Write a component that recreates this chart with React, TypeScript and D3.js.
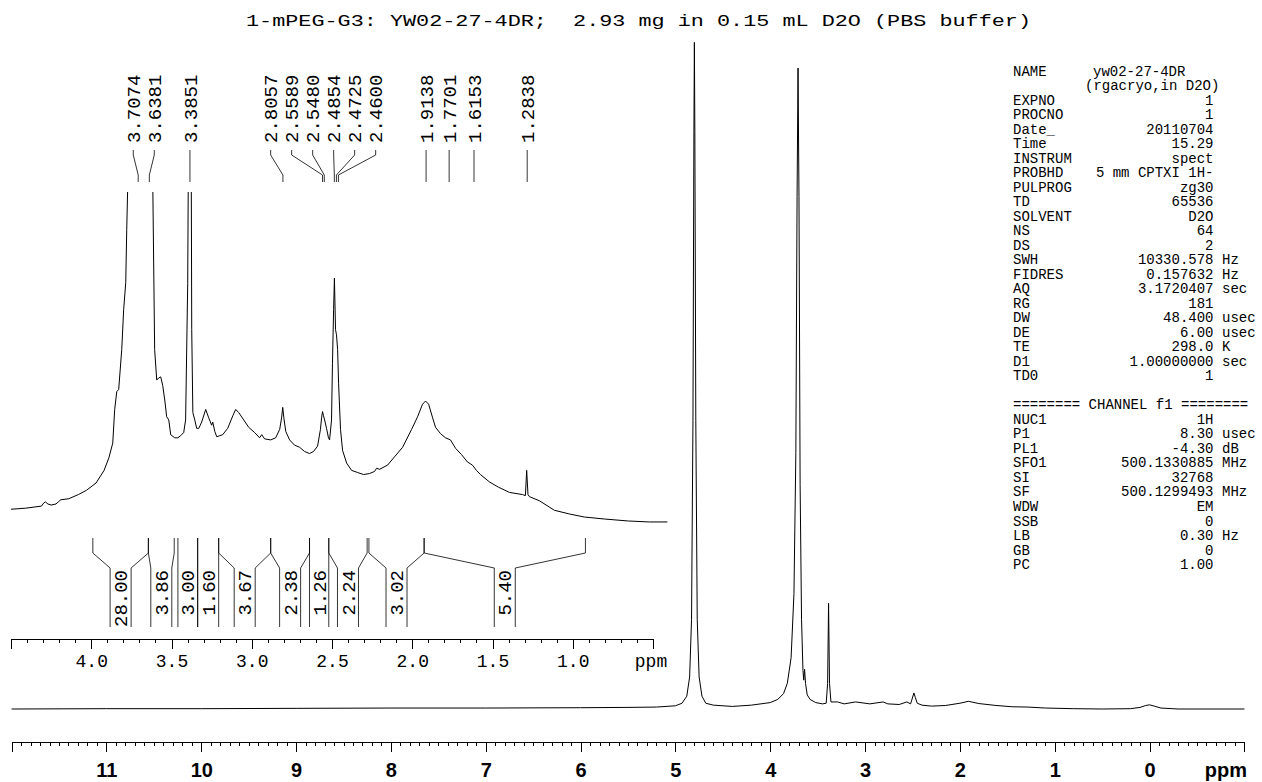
import React, { useRef, useEffect } from 'react';
import * as d3 from 'd3';

const title = '1-mPEG-G3: YW02-27-4DR;  2.93 mg in 0.15 mL D2O (PBS buffer)';

// full spectrum trace, intensity in % of the 3.71 ppm line
const mainPpm = [12.0, 11.0, 10.0, 9.0, 8.0, 7.0, 6.0, 5.5, 5.2, 5.0, 4.93, 4.88, 4.85, 4.83, 4.815, 4.805, 4.80, 4.795, 4.785, 4.77, 4.75, 4.72, 4.68, 4.6, 4.4, 4.2, 4.0, 3.92, 3.86, 3.82, 3.78, 3.75, 3.73, 3.717, 3.707, 3.697, 3.685, 3.67, 3.655, 3.647, 3.638, 3.628, 3.61, 3.58, 3.52, 3.45, 3.41, 3.395, 3.385, 3.375, 3.36, 3.29, 3.22, 3.10, 2.95, 2.81, 2.76, 2.64, 2.56, 2.52, 2.485, 2.47, 2.45, 2.40, 2.30, 2.15, 2.0, 1.91, 1.80, 1.62, 1.45, 1.28, 1.1, 0.8, 0.5, 0.2, 0.1, 0.04, 0.0, -0.05, -0.12, -0.3, -1.0];
const mainInt = [0, 0.05, 0.05, 0.1, 0.15, 0.15, 0.2, 0.25, 0.3, 0.5, 0.9, 2, 5, 14, 45, 90, 104, 90, 45, 14, 5, 2, 0.9, 0.6, 0.4, 0.6, 1.0, 1.5, 2.4, 4.0, 8, 18, 40, 80, 100, 80, 35, 14, 6, 4.5, 6.2, 4, 2.2, 1.5, 1.0, 0.8, 0.9, 4, 16.5, 4, 1.1, 1.1, 0.8, 1.1, 0.8, 1.1, 0.8, 0.7, 1.1, 0.8, 2.5, 1.8, 0.9, 0.6, 0.45, 0.55, 0.9, 1.2, 0.85, 0.55, 0.35, 0.3, 0.15, 0.05, 0, 0.05, 0.25, 0.55, 0.65, 0.45, 0.15, 0, 0];

// expanded trace 4.5 - 0.4 ppm, same intensity units
const insetPpm = [4.50, 4.41, 4.31, 4.296, 4.286, 4.27, 4.25, 4.22, 4.205, 4.19, 4.14, 4.08, 4.03, 3.97, 3.92, 3.89, 3.866, 3.854, 3.841, 3.829, 3.81, 3.798, 3.785, 3.779, 3.767, 3.75, 3.73, 3.717, 3.707, 3.697, 3.685, 3.67, 3.655, 3.647, 3.638, 3.628, 3.617, 3.605, 3.592, 3.58, 3.567, 3.555, 3.542, 3.53, 3.517, 3.505, 3.48, 3.461, 3.443, 3.424, 3.412, 3.399, 3.393, 3.385, 3.378, 3.374, 3.367, 3.355, 3.343, 3.33, 3.312, 3.287, 3.268, 3.25, 3.243, 3.23, 3.218, 3.2, 3.181, 3.15, 3.118, 3.1, 3.081, 3.05, 3.019, 2.982, 2.951, 2.938, 2.92, 2.882, 2.851, 2.826, 2.814, 2.807, 2.8, 2.788, 2.764, 2.733, 2.702, 2.671, 2.64, 2.615, 2.59, 2.572, 2.565, 2.559, 2.553, 2.546, 2.534, 2.522, 2.515, 2.503, 2.497, 2.49, 2.485, 2.478, 2.472, 2.465, 2.459, 2.447, 2.434, 2.409, 2.378, 2.341, 2.303, 2.266, 2.235, 2.222, 2.204, 2.154, 2.11, 2.06, 2.004, 1.967, 1.936, 1.917, 1.898, 1.873, 1.855, 1.824, 1.793, 1.762, 1.73, 1.693, 1.656, 1.625, 1.6, 1.575, 1.519, 1.463, 1.394, 1.314, 1.295, 1.287, 1.279, 1.27, 1.207, 1.114, 1.021, 0.928, 0.803, 0.653, 0.522, 0.41];
const insetInt = [0.15, 0.16, 0.18, 0.21, 0.22, 0.20, 0.19, 0.20, 0.22, 0.24, 0.25, 0.29, 0.33, 0.40, 0.52, 0.64, 0.78, 1.10, 1.27, 1.29, 1.67, 2.05, 2.31, 2.81, 3.6, 18, 40, 80, 100, 80, 35, 14, 6, 4.5, 6.2, 4, 3.3, 1.67, 1.38, 1.40, 1.41, 1.33, 1.19, 1.03, 1.0, 0.86, 0.83, 0.83, 0.85, 0.88, 1.0, 2.3, 4, 16.5, 4, 1.86, 1.07, 1.0, 0.92, 0.92, 0.98, 1.10, 1.02, 0.95, 0.98, 0.89, 0.84, 0.85, 0.86, 0.92, 1.04, 1.10, 1.07, 1.0, 0.93, 0.88, 0.83, 0.86, 0.82, 0.81, 0.83, 0.91, 1.02, 1.12, 1.02, 0.89, 0.81, 0.76, 0.74, 0.70, 0.68, 0.70, 0.75, 0.91, 1.02, 1.08, 1.04, 1.0, 0.92, 0.83, 0.81, 1.0, 1.54, 2.05, 2.35, 1.86, 1.81, 1.67, 1.35, 0.91, 0.71, 0.59, 0.52, 0.50, 0.48, 0.49, 0.51, 0.54, 0.53, 0.57, 0.65, 0.74, 0.91, 1.03, 1.15, 1.18, 1.15, 1.02, 0.93, 0.87, 0.83, 0.81, 0.73, 0.67, 0.60, 0.57, 0.52, 0.48, 0.41, 0.36, 0.31, 0.29, 0.28, 0.52, 0.29, 0.27, 0.23, 0.14, 0.105, 0.076, 0.057, 0.038, 0.029, 0.029];

const peakLabels = ['3.7074', '3.6381', '3.3851', '2.8057', '2.5589', '2.5480', '2.4854', '2.4725', '2.4600', '1.9138', '1.7701', '1.6153', '1.2838'];

const integralFrom = [3.99, 3.644, 3.46, 3.337, 3.206, 2.882, 2.64, 2.52, 2.27, 1.926];
const integralTo = [3.644, 3.483, 3.337, 3.206, 2.882, 2.64, 2.52, 2.281, 1.926, 0.921];
const integralValues = ['28.00', '3.86', '3.00', '1.60', '3.67', '2.38', '1.26', '2.24', '3.02', '5.40'];

const mainTicks = [11, 10, 9, 8, 7, 6, 5, 4, 3, 2, 1, 0];
const insetTicks = [4.0, 3.5, 3.0, 2.5, 2.0, 1.5, 1.0];

const nameValue = 'yw02-27-4DR';
const nameComment = '(rgacryo,in D2O)';
const paramLabels = ['NAME', '', 'EXPNO', 'PROCNO', 'Date_', 'Time', 'INSTRUM', 'PROBHD', 'PULPROG', 'TD', 'SOLVENT', 'NS', 'DS', 'SWH', 'FIDRES', 'AQ', 'RG', 'DW', 'DE', 'TE', 'D1', 'TD0', '', '======== CHANNEL f1 ========', 'NUC1', 'P1', 'PL1', 'SFO1', 'SI', 'SF', 'WDW', 'SSB', 'LB', 'GB', 'PC'];
const paramValues = ['', '', '1', '1', '20110704', '15.29', 'spect', '5 mm CPTXI 1H-', 'zg30', '65536', 'D2O', '64', '2', '10330.578', '0.157632', '3.1720407', '181', '48.400', '6.00', '298.0', '1.00000000', '1', '', '', '1H', '8.30', '-4.30', '500.1330885', '32768', '500.1299493', 'EM', '0', '0.30', '0', '1.00'];
const paramUnits = ['', '', '', '', '', '', '', '', '', '', '', '', '', 'Hz', 'Hz', 'sec', '', 'usec', 'usec', 'K', 'sec', '', '', '', '', 'usec', 'dB', 'MHz', '', 'MHz', '', '', 'Hz', '', ''];

const mono = '"Liberation Mono", "Courier New", monospace';
const sans = '"Liberation Sans", Arial, sans-serif';

// push overlapping labels apart, keeping each cluster centred on its peaks
const spreadLabels = (xs, gap) => {
    const groups = xs.map(v => ({ sum: v, n: 1 }));
    let merged = true;
    while (merged) {
        merged = false;
        for (let i = 0; i < groups.length - 1; i++) {
            const a = groups[i], b = groups[i + 1];
            const aEnd = a.sum / a.n + (a.n - 1) * gap / 2;
            const bStart = b.sum / b.n - (b.n - 1) * gap / 2;
            if (bStart - aEnd < gap) {
                groups.splice(i, 2, { sum: a.sum + b.sum, n: a.n + b.n });
                merged = true;
                break;
            }
        }
    }
    const out = [];
    groups.forEach(g => {
        const c = g.sum / g.n;
        for (let k = 0; k < g.n; k++) out.push(c - (g.n - 1) * gap / 2 + k * gap);
    });
    return out;
};

const Spectrum = () => {
    const svgRef = useRef(null);

    useEffect(() => {
        drawSpectrum();
    }, []);

    const drawSpectrum = () => {
        const svg = d3.select(svgRef.current);
        svg.selectAll('*').remove();
        svg.attr('width', 1262).attr('height', 782);

        svg.append('rect').attr('width', 1262).attr('height', 782).attr('fill', '#fff');

        const x = d3.scaleLinear().domain([12, -1]).range([11.6, 1244.4]);
        const y = d3.scaleLinear().domain([0, 100]).range([709, 68]);
        const xi = d3.scaleLinear().domain([4.5, 0.5]).range([11, 653]);
        const yi = d3.scaleLinear().domain([0, 3.17]).range([525, 192]);

        // title
        svg.append('text')
            .attr('x', 638.5)
            .attr('y', 26)
            .attr('text-anchor', 'middle')
            .attr('font-family', mono)
            .attr('font-size', 17)
            .attr('textLength', 785)
            .attr('lengthAdjust', 'spacingAndGlyphs')
            .style('white-space', 'pre')
            .text(title);

        // full spectrum
        const mainLine = d3.line()
            .x((d, i) => x(mainPpm[i]))
            .y((d, i) => y(mainInt[i]));
        svg.append('path')
            .datum(mainPpm)
            .attr('d', mainLine)
            .attr('fill', 'none')
            .attr('stroke', '#000')
            .attr('stroke-width', 1);

        // main axis: minor then major ticks
        const mainAxisG = svg.append('g').attr('transform', 'translate(0,742)');
        mainAxisG.append('g')
            .call(d3.axisBottom(x).tickValues(d3.range(-10, 121).map(v => v / 10)).tickSize(4).tickSizeOuter(0).tickFormat(() => ''));
        mainAxisG.append('g')
            .call(d3.axisBottom(x).tickValues(d3.range(-1, 13)).tickSize(10).tickSizeOuter(0)
                .tickFormat(d => (mainTicks.includes(d) ? String(d) : '')));
        mainAxisG.selectAll('path, line').attr('stroke', '#000').attr('shape-rendering', 'crispEdges');
        mainAxisG.selectAll('text')
            .attr('y', 35)
            .attr('dy', 0)
            .attr('fill', '#000')
            .attr('font-family', sans)
            .attr('font-weight', 'bold')
            .attr('font-size', 20);
        svg.append('text')
            .attr('x', 1247)
            .attr('y', 777)
            .attr('text-anchor', 'end')
            .attr('font-family', sans)
            .attr('font-weight', 'bold')
            .attr('font-size', 20)
            .text('ppm');

        // expanded region
        svg.append('clipPath').attr('id', 'insetClip')
            .append('rect').attr('x', 0).attr('y', 192).attr('width', 700).attr('height', 360);
        const insetLine = d3.line()
            .x((d, i) => xi(insetPpm[i]))
            .y((d, i) => yi(insetInt[i]));
        svg.append('path')
            .datum(insetPpm)
            .attr('d', insetLine)
            .attr('clip-path', 'url(#insetClip)')
            .attr('fill', 'none')
            .attr('stroke', '#000')
            .attr('stroke-width', 1);

        const insetAxisG = svg.append('g').attr('transform', 'translate(0,639)');
        insetAxisG.append('g')
            .call(d3.axisBottom(xi).tickValues(d3.range(5, 46).map(v => v / 10)).tickSize(4).tickSizeOuter(0).tickFormat(() => ''));
        insetAxisG.append('g')
            .call(d3.axisBottom(xi).tickValues(d3.range(1, 10).map(v => v / 2)).tickSize(10).tickSizeOuter(0)
                .tickFormat(d => (insetTicks.includes(d) ? d3.format('.1f')(d) : '')));
        insetAxisG.selectAll('path, line').attr('stroke', '#000').attr('shape-rendering', 'crispEdges');
        insetAxisG.selectAll('text')
            .attr('y', 28)
            .attr('dy', 0)
            .attr('fill', '#000')
            .attr('font-family', mono)
            .attr('font-size', 18);
        svg.append('text')
            .attr('x', xi(0.5) - 2)
            .attr('y', 667)
            .attr('text-anchor', 'middle')
            .attr('font-family', mono)
            .attr('font-size', 18)
            .text('ppm');

        // peak picking labels
        const peakX = peakLabels.map(p => xi(+p));
        const labelX = spreadLabels(peakX, 21);
        const peaks = svg.append('g');
        peakLabels.forEach((p, i) => {
            peaks.append('path')
                .attr('d', `M${labelX[i]},150 V155 L${peakX[i]},175 V182`)
                .attr('fill', 'none')
                .attr('stroke', '#000')
                .attr('stroke-width', 0.8);
            peaks.append('text')
                .attr('transform', `translate(${labelX[i]},143) rotate(-90)`)
                .attr('dy', '0.35em')
                .attr('font-family', mono)
                .attr('font-size', 19)
                .text(p);
        });

        // integrals
        const integ = svg.append('g');
        integralValues.forEach((v, i) => {
            const x1 = xi(integralFrom[i]);
            const x2 = xi(integralTo[i]);
            const cx = (x1 + x2) / 2;
            const hw = Math.min(10.5, (x2 - x1) / 2);
            integ.append('path')
                .attr('d', `M${x1},538 V553 L${cx - hw},568 V627 M${x2},538 V553 L${cx + hw},568 V627`)
                .attr('fill', 'none')
                .attr('stroke', '#000')
                .attr('stroke-width', 0.8);
            integ.append('text')
                .attr('transform', `translate(${cx},570) rotate(-90)`)
                .attr('dy', '0.35em')
                .attr('text-anchor', 'end')
                .attr('font-family', mono)
                .attr('font-size', 19)
                .text(v);
        });

        // acquisition parameters
        const params = svg.append('g')
            .attr('font-family', mono)
            .attr('font-size', 14)
            .attr('fill', '#000');
        paramLabels.forEach((lab, i) => {
            const yy = 75.7 + i * 14.51;
            if (lab) params.append('text').attr('x', 1013).attr('y', yy).style('white-space', 'pre').text(lab);
            if (paramValues[i]) {
                params.append('text').attr('x', 1213.5).attr('y', yy).attr('text-anchor', 'end')
                    .style('white-space', 'pre').text(paramValues[i]);
            }
            if (paramUnits[i]) params.append('text').attr('x', 1222).attr('y', yy).text(paramUnits[i]);
        });
        params.append('text').attr('x', 1093).attr('y', 75.7).text(nameValue);
        params.append('text').attr('x', 1085).attr('y', 75.7 + 14.51).text(nameComment);
    };

    return (
        <svg ref={svgRef} style={{ position: 'absolute', left: 0, top: 0, display: 'block' }}></svg>
    );
};

export default function App() {
    return <Spectrum />;
}
